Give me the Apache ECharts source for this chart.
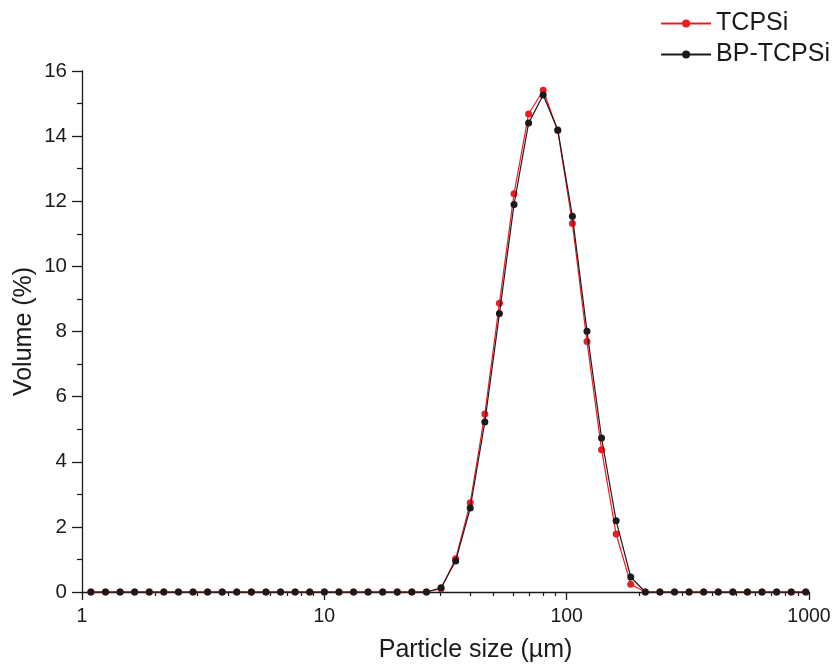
<!DOCTYPE html>
<html>
<head>
<meta charset="utf-8">
<script src="https://cdn.jsdelivr.net/npm/echarts@6/dist/echarts.min.js"></script>
<style>html,body{margin:0;padding:0;background:#fff;}#c{width:835px;height:664px;}</style>
</head>
<body>
<div id="c"></div>
<script>
// Particle size classes (µm)
var sizes = [1.088, 1.25, 1.436, 1.649, 1.895, 2.176, 2.5, 2.872, 3.299, 3.789,
  4.353, 5.0, 5.743, 6.598, 7.579, 8.706, 10, 11.49, 13.2, 15.16,
  17.41, 20, 22.97, 26.39, 30.31, 34.82, 40, 45.95, 52.78, 60.63,
  69.64, 80, 91.9, 105.6, 121.3, 139.3, 160, 183.8, 211.1, 242.5,
  278.6, 320, 367.6, 422.2, 485, 557.2, 640, 735.2, 844.5, 970.1];
var tcpsi = [0,0,0,0,0,0,0,0,0,0, 0,0,0,0,0,0,0,0,0,0, 0,0,0,0,
  0.10, 1.02, 2.74, 5.47, 8.87, 12.23, 14.68, 15.41, 14.17, 11.32, 7.69, 4.37, 1.78, 0.24,
  0,0,0,0,0,0,0,0,0,0,0,0];
var bpTcpsi = [0,0,0,0,0,0,0,0,0,0, 0,0,0,0,0,0,0,0,0,0, 0,0,0,0,
  0.13, 0.95, 2.58, 5.22, 8.55, 11.90, 14.40, 15.26, 14.19, 11.54, 8.01, 4.73, 2.19, 0.46,
  0,0,0,0,0,0,0,0,0,0,0,0];
var seriesNames = ['TCPSi', 'BP-TCPSi'];
var xTickLabels = ['1', '10', '100', '1000'];
var xMinorTicks = [2,3,4,5,6,7,8,9,20,30,40,50,60,70,80,90,200,300,400,500,600,700,800,900];

function pairs(ys) { return sizes.map(function (s, i) { return [s, ys[i]]; }); }

var FONT = '"Liberation Sans", Arial, Helvetica, sans-serif';
var chart = echarts.init(document.getElementById('c'), null, {renderer: 'canvas'});
chart.setOption({
  backgroundColor: '#ffffff',
  animation: false,
  textStyle: {fontFamily: FONT, color: '#1a1a1a'},
  grid: {left: 82, right: 26, top: 71, bottom: 72, containLabel: false, outerBoundsMode: 'none'},
  legend: {
    orient: 'vertical', right: 0, top: 6,
    itemWidth: 50, itemHeight: 10, itemGap: 6,
    textStyle: {fontFamily: FONT, fontSize: 25, color: '#1a1a1a', padding: [0, 0, 0, 0]},
    data: seriesNames
  },
  xAxis: [{
    type: 'log', logBase: 10, min: 1, max: 1000,
    name: 'Particle size (µm)', nameLocation: 'middle', nameGap: 46, nameMoveOverlap: false,
    nameTextStyle: {fontFamily: FONT, fontSize: 25, color: '#1a1a1a', padding: [0, 0, 0, 60]},
    axisLine: {show: true, lineStyle: {color: '#1a1a1a', width: 1.3}},
    axisTick: {show: true, inside: false, length: 8, lineStyle: {color: '#1a1a1a', width: 1.3}},
    axisLabel: {fontFamily: FONT, fontSize: 19.5, color: '#1a1a1a', margin: 15,
      formatter: function (v) { var s = String(Math.round(v)); return xTickLabels.indexOf(s) >= 0 ? s : ''; }},
    splitLine: {show: false}
  }, {
    type: 'value', min: 0, max: 3, position: 'bottom', gridIndex: 0,
    axisLine: {show: false},
    axisTick: {show: true, inside: false, length: 4, lineStyle: {color: '#1a1a1a', width: 1.2},
      customValues: xMinorTicks.map(function (v) { return Math.log10(v); })},
    axisLabel: {show: false},
    splitLine: {show: false}
  }],
  yAxis: {
    type: 'value', min: 0, max: 16, interval: 2,
    name: 'Volume (%)', nameLocation: 'middle', nameGap: 45, nameRotate: 90, nameMoveOverlap: false,
    nameTextStyle: {fontFamily: FONT, fontSize: 25, color: '#1a1a1a'},
    axisLine: {show: true, lineStyle: {color: '#1a1a1a', width: 1.3}},
    axisTick: {show: true, inside: false, length: 10, lineStyle: {color: '#1a1a1a', width: 1.3}},
    minorTick: {show: true, splitNumber: 2, length: 5, lineStyle: {color: '#1a1a1a', width: 1.2}},
    axisLabel: {fontFamily: FONT, fontSize: 20.5, color: '#1a1a1a', margin: 15},
    splitLine: {show: false}
  },
  series: [{
    name: seriesNames[0], type: 'line', xAxisIndex: 0,
    data: pairs(tcpsi),
    symbol: 'circle', symbolSize: 7,
    lineStyle: {color: '#ec1c24', width: 1.2},
    itemStyle: {color: '#ec1c24'},
    z: 2
  }, {
    name: seriesNames[1], type: 'line', xAxisIndex: 0,
    data: pairs(bpTcpsi),
    symbol: 'circle', symbolSize: 7,
    lineStyle: {color: '#1a1a1a', width: 1.2},
    itemStyle: {color: '#1a1a1a'},
    z: 3
  }]
});
</script>
</body>
</html>
